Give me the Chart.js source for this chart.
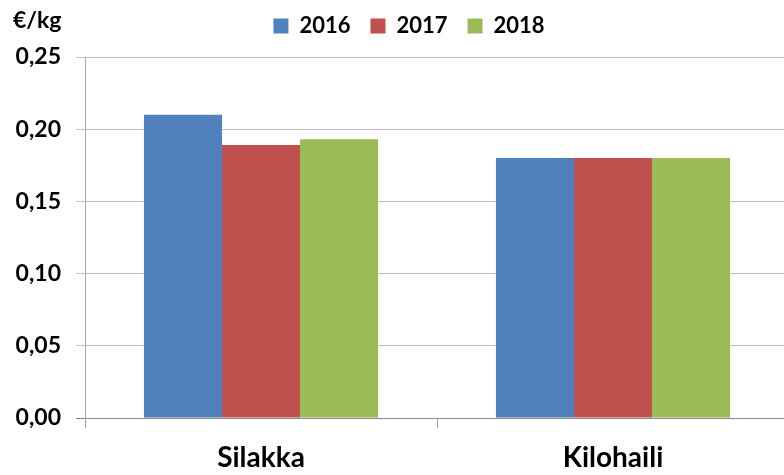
<!DOCTYPE html>
<html>
<head>
<meta charset="utf-8">
<script src="https://cdn.jsdelivr.net/npm/chart.js@4"></script>
<style>
  html, body { margin: 0; padding: 0; background: #fff; overflow: hidden; }
  #wrap { width: 818px; height: 475px; }
</style>
</head>
<body>
<div id="wrap"><canvas id="chart" width="818" height="475"></canvas></div>
<script>
const categories = ['Silakka', 'Kilohaili'];
const years = ['2016', '2017', '2018'];
const values2016 = [0.21, 0.18];
const values2017 = [0.189, 0.18];
const values2018 = [0.193, 0.18];
const colors = ['#4F81BD', '#C0504D', '#9BBB59'];

const FONT = 'Lato, "Liberation Sans", sans-serif';

// unit label drawn top-left, like the original
const unitLabel = {
  id: 'unitLabel',
  afterDraw(chart) {
    const ctx = chart.ctx;
    ctx.save();
    ctx.font = 'bold 23px ' + FONT;
    ctx.fillStyle = '#000';
    ctx.textBaseline = 'alphabetic';
    ctx.textAlign = 'left';
    ctx.fillText('€/kg', 13, 28);
    ctx.restore();
  }
};

// fixed legend height so the plot top lands where it should,
// then nudge the legend over the plot area
const legendPlace = {
  id: 'legendPlace',
  beforeInit(chart) {
    const fit = chart.legend.fit;
    chart.legend.fit = function () {
      fit.bind(chart.legend)();
      this.height = 53;
    };
  },
  afterLayout(chart) {
    const lg = chart.legend;
    lg.left += 8.5;
    lg.right += 8.5;
    lg.top -= 9;
    lg.bottom -= 9;
  }
};

new Chart(document.getElementById('chart'), {
  type: 'bar',
  data: {
    labels: categories,
    datasets: [
      { label: years[0], data: values2016, backgroundColor: colors[0] },
      { label: years[1], data: values2017, backgroundColor: colors[1] },
      { label: years[2], data: values2018, backgroundColor: colors[2] }
    ]
  },
  options: {
    responsive: false,
    animation: false,
    categoryPercentage: 0.665,
    barPercentage: 1,
    layout: { padding: { left: 12, right: 29, top: 4, bottom: 0 } },
    plugins: {
      tooltip: { enabled: false },
      legend: {
        position: 'top',
        labels: {
          boxWidth: 15,
          boxHeight: 15,
          padding: 20,
          color: '#000',
          font: { family: FONT, size: 22, weight: 'bold' }
        }
      }
    },
    scales: {
      x: {
        afterFit(axis) { axis.height = 57; },
        grid: {
          offset: true,
          drawOnChartArea: false,
          tickLength: 10,
          color: '#A6A6A6'
        },
        border: { color: '#888888' },
        ticks: {
          color: '#000',
          padding: 13,
          font: { family: FONT, size: 28, weight: 'bold' }
        }
      },
      y: {
        min: 0,
        max: 0.25,
        afterFit(axis) { axis.width = 73; },
        grid: { color: (c) => c.tick && c.tick.value === 0 ? '#888888' : '#BFBFBF', tickLength: 9 },
        border: { color: '#A6A6A6' },
        ticks: {
          stepSize: 0.05,
          color: '#000',
          padding: 15,
          font: { family: FONT, size: 23, weight: 'bold' },
          callback: (v) => v.toFixed(2).replace('.', ',')
        }
      }
    }
  },
  plugins: [unitLabel, legendPlace]
});
</script>
</body>
</html>
